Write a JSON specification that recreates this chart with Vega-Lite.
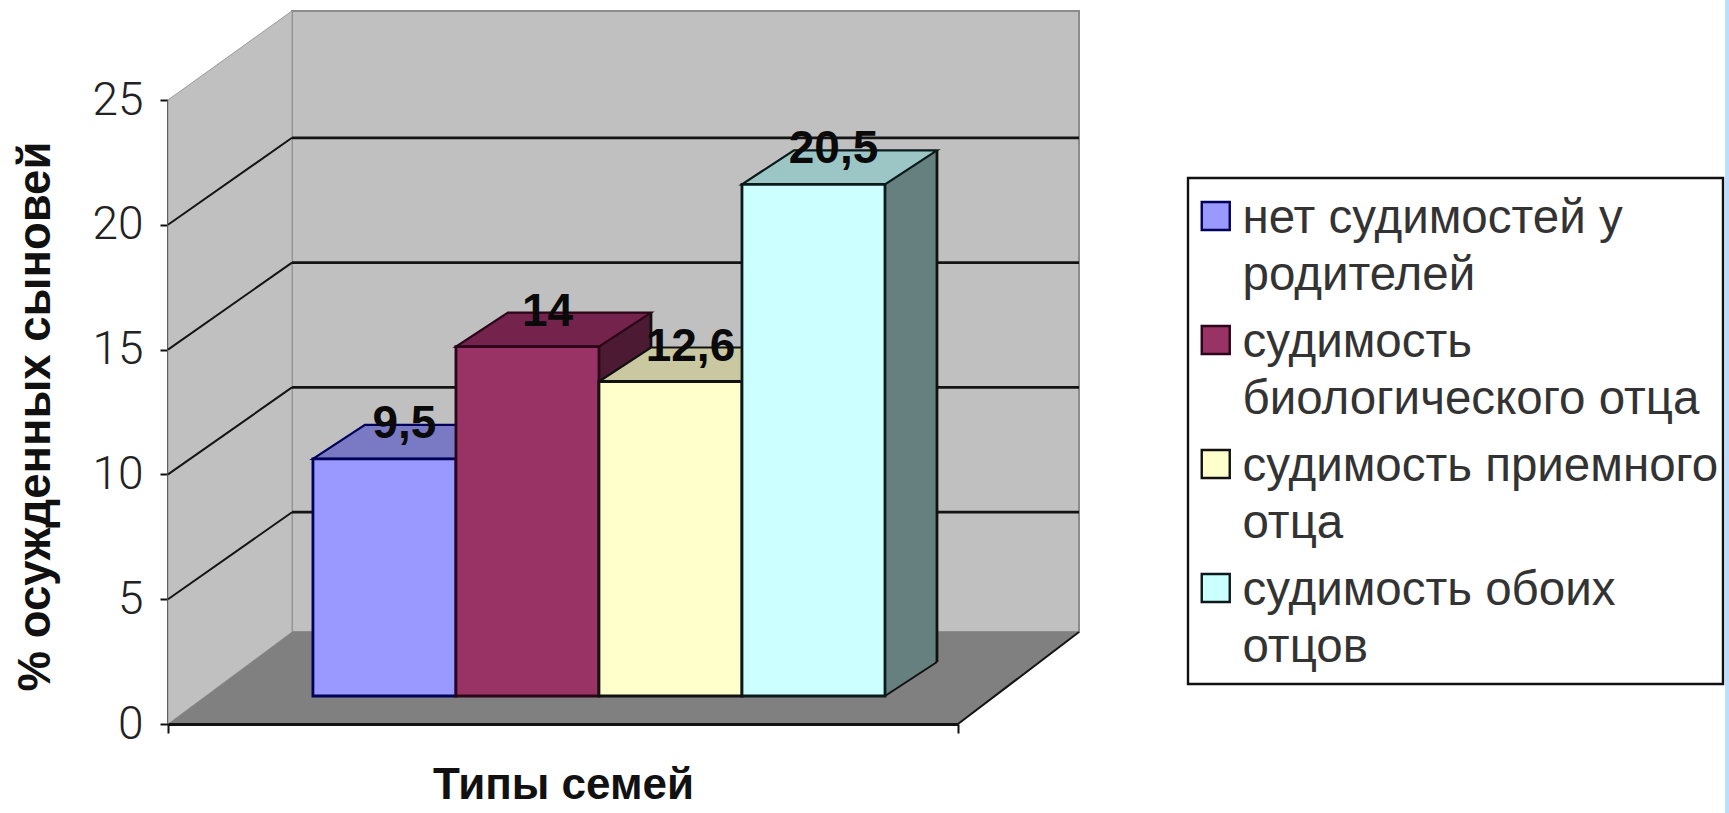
{
  "$schema": "https://vega.github.io/schema/vega-lite/v6.json",
  "width": 790,
  "height": 624,
  "autosize": "none",
  "padding": {"left": 168, "top": 100, "right": 771, "bottom": 89},
  "background": "#ffffff",
  "config": {
    "view": {"stroke": null},
    "font": "Liberation Sans",
    "locale": {"number": {"decimal": ",", "thousands": " ", "grouping": [3], "currency": ["", ""]}},
    "axisY": {
      "titleFont": "Liberation Sans", "titleFontSize": 45.5, "titleFontWeight": "bold", "titleColor": "#111",
      "titlePadding": 32, "titleY": 316, "labelFont": "Roboto", "labelFontWeight": 300, "labelFontSize": 46, "labelColor": "#222", "labelPadding": 17,
      "grid": false, "tickSize": 8, "tickWidth": 2, "tickColor": "#111", "domainColor": "#111", "domainWidth": 2.8, "zindex": 1
    }
  },
  "datasets": {
    "families": [
      {"series": "нет судимостей у\nродителей", "value": 9.5},
      {"series": "судимость\nбиологического отца", "value": 14},
      {"series": "судимость приемного\nотца", "value": 12.6},
      {"series": "судимость обоих\nотцов", "value": 20.5}
    ],
    "ticks": [{"tick": 5}, {"tick": 10}, {"tick": 15}, {"tick": 20}],
    "frame": [{"part": "plane"}]
  },
  "resolve": {"scale": {"x": "independent", "fill": "independent", "stroke": "independent"}},
  "layer": [
    {
      "description": "Narrow page-edge strip; also declares the value axis",
      "data": {"name": "frame"},
      "mark": {"type": "rect", "fill": "#BBDDFF", "clip": false},
      "encoding": {
        "x": {"datum": 1.971, "type": "quantitative", "scale": {"domain": [0, 1], "nice": false, "zero": false}, "axis": null},
        "x2": {"datum": 1.98},
        "y": {"datum": 29.1, "type": "quantitative", "scale": {"domain": [0, 25], "nice": false}, "axis": {"title": "% осужденных сыновей", "values": [0, 5, 10, 15, 20, 25]}},
        "y2": {"datum": -3.6}
      }
    },
    {
      "description": "Back wall",
      "data": {"name": "frame"},
      "mark": {"type": "rect", "fill": "#C0C0C0", "stroke": "#8c8c8c", "strokeWidth": 2, "xOffset": 124, "x2Offset": 121, "yOffset": -92, "y2Offset": -89},
      "encoding": {
        "x": {"datum": 0, "type": "quantitative", "scale": {"domain": [0, 1], "nice": false, "zero": false}, "axis": null},
        "x2": {"datum": 1},
        "y": {"datum": 0, "type": "quantitative", "scale": {"domain": [0, 25], "nice": false}},
        "y2": {"datum": 25}
      }
    },
    {
      "description": "Side wall",
      "data": {"name": "frame"},
      "mark": {"type": "point", "shape": "M0,0 L124,-92 L124,-713 L0,-624 Z", "size": 4, "filled": true, "fill": "#C0C0C0", "stroke": "#9a9a9a", "strokeWidth": 1, "opacity": 1},
      "encoding": {
        "x": {"datum": 0, "type": "quantitative", "scale": {"domain": [0, 1], "nice": false, "zero": false}, "axis": null},
        "y": {"datum": 0, "type": "quantitative", "scale": {"domain": [0, 25], "nice": false}}
      }
    },
    {
      "description": "Back gridlines",
      "data": {"name": "ticks"},
      "mark": {"type": "rule", "stroke": "#141414", "strokeWidth": 2.8, "xOffset": 124, "x2Offset": 121, "yOffset": -87},
      "encoding": {
        "x": {"datum": 0, "type": "quantitative", "scale": {"domain": [0, 1], "nice": false, "zero": false}, "axis": null},
        "x2": {"datum": 1},
        "y": {"field": "tick", "type": "quantitative", "scale": {"domain": [0, 25], "nice": false}}
      }
    },
    {
      "description": "Side wall gridlines",
      "data": {"name": "ticks"},
      "mark": {"type": "point", "shape": "M0,0 L124,-87", "size": 4, "filled": false, "stroke": "#141414", "strokeWidth": 2, "opacity": 1},
      "encoding": {
        "x": {"datum": 0, "type": "quantitative", "scale": {"domain": [0, 1], "nice": false, "zero": false}, "axis": null},
        "y": {"field": "tick", "type": "quantitative", "scale": {"domain": [0, 25], "nice": false}}
      }
    },
    {
      "description": "Floor, with the category axis attached to it",
      "data": {"name": "frame"},
      "mark": {"type": "point", "shape": "M0,0 L124,-92 L911,-92 L790,0 Z", "size": 4, "filled": true, "fill": "#808080", "strokeWidth": 0, "opacity": 1},
      "encoding": {
        "x": {
          "datum": 0, "type": "quantitative",
          "scale": {"domain": [0, 1], "nice": false, "zero": false},
          "axis": {
            "title": "Типы семей", "titleFont": "Liberation Sans", "titleFontSize": 44, "titleFontWeight": "bold", "titleColor": "#111",
            "titlePadding": 29, "values": [0, 1], "labels": false, "grid": false, "tickSize": 9, "tickWidth": 2, "tickColor": "#111",
            "domainColor": "#111", "domainWidth": 2.8, "zindex": 1
          }
        },
        "y": {"datum": 0, "type": "quantitative", "scale": {"domain": [0, 25], "nice": false}}
      }
    },
    {
      "description": "Floor right edge",
      "data": {"name": "frame"},
      "mark": {"type": "point", "shape": "M0,0 L121,-92", "size": 4, "filled": false, "stroke": "#141414", "strokeWidth": 2, "opacity": 1},
      "encoding": {
        "x": {"datum": 1, "type": "quantitative", "scale": {"domain": [0, 1], "nice": false, "zero": false}, "axis": null},
        "y": {"datum": 0, "type": "quantitative", "scale": {"domain": [0, 25], "nice": false}}
      }
    },
    {
      "description": "Bar side, body",
      "data": {"name": "families"},
      "mark": {"type": "rect", "width": 52, "xOffset": 97.5, "yOffset": -28, "y2Offset": -62},
      "encoding": {
        "x": {"field": "series", "type": "nominal", "sort": null, "axis": null, "scale": {"type": "band", "paddingInner": 0, "paddingOuter": 0.762, "align": 0.665}},
        "y": {"field": "value", "type": "quantitative", "scale": {"domain": [0, 25], "nice": false}},
        "y2": {"datum": 0},
        "fill": {"field": "series", "type": "nominal", "sort": null, "legend": null, "scale": {"range": ["#4D4D80", "#4D1A33", "#808066", "#668080"]}}
      }
    },
    {
      "description": "Bar side, upper wedge",
      "data": {"name": "families"},
      "mark": {"type": "point", "shape": "M0,1 L0,0 L52,-34 L52,1 Z", "size": 4, "filled": true, "strokeWidth": 0, "opacity": 1, "xOffset": 71.5, "yOffset": -28},
      "encoding": {
        "x": {"field": "series", "type": "nominal", "sort": null, "axis": null, "scale": {"type": "band", "paddingInner": 0, "paddingOuter": 0.762, "align": 0.665}},
        "y": {"field": "value", "type": "quantitative", "scale": {"domain": [0, 25], "nice": false}},
        "fill": {"field": "series", "type": "nominal", "sort": null, "legend": null, "scale": {"range": ["#4D4D80", "#4D1A33", "#808066", "#668080"]}}
      }
    },
    {
      "description": "Bar side, lower wedge",
      "data": {"name": "families"},
      "mark": {"type": "point", "shape": "M0,-35 L52,-35 L52,-34 L0,0 Z", "size": 4, "filled": true, "strokeWidth": 0, "opacity": 1, "xOffset": 71.5, "yOffset": -28},
      "encoding": {
        "x": {"field": "series", "type": "nominal", "sort": null, "axis": null, "scale": {"type": "band", "paddingInner": 0, "paddingOuter": 0.762, "align": 0.665}},
        "y": {"datum": 0, "type": "quantitative", "scale": {"domain": [0, 25], "nice": false}},
        "fill": {"field": "series", "type": "nominal", "sort": null, "legend": null, "scale": {"range": ["#4D4D80", "#4D1A33", "#808066", "#668080"]}}
      }
    },
    {
      "description": "Bar side, outline: rear vertical edge",
      "data": {"name": "families"},
      "mark": {"type": "rule", "stroke": "#111", "strokeWidth": 2.8, "xOffset": 123.5, "yOffset": -62, "y2Offset": -62},
      "encoding": {
        "x": {"field": "series", "type": "nominal", "sort": null, "axis": null, "scale": {"type": "band", "paddingInner": 0, "paddingOuter": 0.762, "align": 0.665}},
        "y": {"field": "value", "type": "quantitative", "scale": {"domain": [0, 25], "nice": false}},
        "y2": {"datum": 0}
      }
    },
    {
      "description": "Bar side, outline: lower diagonal edge",
      "data": {"name": "families"},
      "mark": {"type": "point", "shape": "M0,0 L52,-34", "size": 4, "filled": false, "stroke": "#111", "strokeWidth": 2, "opacity": 1, "xOffset": 71.5, "yOffset": -28},
      "encoding": {
        "x": {"field": "series", "type": "nominal", "sort": null, "axis": null, "scale": {"type": "band", "paddingInner": 0, "paddingOuter": 0.762, "align": 0.665}},
        "y": {"datum": 0, "type": "quantitative", "scale": {"domain": [0, 25], "nice": false}}
      }
    },
    {
      "description": "Bar tops",
      "data": {"name": "families"},
      "mark": {"type": "point", "shape": "M-71.5,0 L71.5,0 L123.5,-34 L-19.5,-34 Z", "size": 4, "filled": true, "strokeWidth": 2.2, "opacity": 1, "yOffset": -28},
      "encoding": {
        "x": {"field": "series", "type": "nominal", "sort": null, "axis": null, "scale": {"type": "band", "paddingInner": 0, "paddingOuter": 0.762, "align": 0.665}},
        "y": {"field": "value", "type": "quantitative", "scale": {"domain": [0, 25], "nice": false}},
        "fill": {"field": "series", "type": "nominal", "sort": null, "legend": null, "scale": {"range": ["#7A7AC4", "#73234C", "#C9C8A0", "#9CC6C6"]}},
        "stroke": {"field": "series", "type": "nominal", "sort": null, "legend": null, "scale": {"range": ["#00005A", "#2A0618", "#111111", "#0A1A1A"]}}
      }
    },
    {
      "description": "Bar fronts, carrying the legend",
      "data": {"name": "families"},
      "mark": {"type": "rect", "strokeWidth": 2.8, "yOffset": -28, "y2Offset": -28},
      "encoding": {
        "x": {"field": "series", "type": "nominal", "sort": null, "axis": null, "scale": {"type": "band", "paddingInner": 0, "paddingOuter": 0.762, "align": 0.665}},
        "y": {"field": "value", "type": "quantitative", "scale": {"domain": [0, 25], "nice": false}},
        "y2": {"datum": 0},
        "stroke": {"field": "series", "type": "nominal", "sort": null, "legend": null, "scale": {"range": ["#00005A", "#2A0618", "#111111", "#0A1A1A"]}},
        "fill": {
          "field": "series", "type": "nominal", "sort": null,
          "scale": {"range": ["#9999FF", "#993366", "#FFFFCC", "#CCFFFF"]},
          "legend": {
            "title": " ", "titleFontSize": 1, "titlePadding": 7, "titleOrient": "bottom",
            "orient": "none", "legendX": 1020, "legendY": 78, "padding": 4,
            "fillColor": "#ffffff", "strokeColor": "#111111",
            "symbolType": "square", "symbolSize": 784, "symbolStrokeColor": "#111111", "symbolStrokeWidth": 2.4,
            "labelFont": "Liberation Sans", "labelFontSize": 47.5, "labelColor": "#333333", "labelLimit": 640, "labelOffset": 3,
            "labelBaseline": "alphabetic", "rowPadding": 6,
            "labelExpr": "split(datum.label, '\\n')",
            "encode": {
              "symbols": {"update": {"y": {"value": 34}}},
              "labels": {"update": {"y": {"value": 34}, "lineHeight": {"value": 57}, "dy": {"value": 17}}},
              "legend": {"update": {"strokeWidth": {"value": 2.4}}}
            }
          }
        }
      }
    },
    {
      "description": "Value labels",
      "data": {"name": "families"},
      "mark": {"type": "text", "font": "Liberation Sans", "fontSize": 46, "fontWeight": "bold", "fill": "#0a0a0a", "baseline": "alphabetic", "dx": 20, "dy": -49},
      "encoding": {
        "x": {"field": "series", "type": "nominal", "sort": null, "axis": null, "scale": {"type": "band", "paddingInner": 0, "paddingOuter": 0.762, "align": 0.665}},
        "y": {"field": "value", "type": "quantitative", "scale": {"domain": [0, 25], "nice": false}},
        "text": {"field": "value", "type": "quantitative", "format": "~g"}
      }
    }
  ]
}
